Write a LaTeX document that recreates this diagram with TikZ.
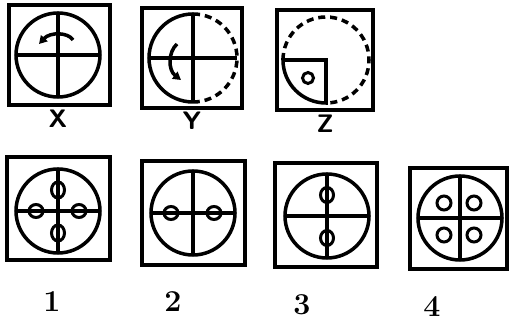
\documentclass[tikz,border=0pt]{standalone}
\usetikzlibrary{arrows.meta}

\begin{document}
\begin{tikzpicture}[
  x=0.02cm, y=-0.02cm,
  frame/.style={draw, line width=1.8pt},
  ring/.style={draw, line width=2pt},
  dashring/.style={draw, line width=2pt, dash pattern=on 4pt off 2.8pt},
  hub/.style={draw, line width=1.7pt, fill=white},
  turn/.style={line width=2pt, -{Triangle[length=4.5pt,width=5pt]}},
  letter/.style={font=\sffamily\bfseries\Large, inner sep=0pt},
  digit/.style={font=\bfseries\LARGE, inner sep=0pt}
]
\useasboundingbox (0,0) rectangle (510,323);

% question figures
% X
\draw[frame] (9,5) rectangle (110,105);
\draw[ring] (58,55) circle (42);
\draw[ring] (16,55) -- (100,55) (58,13) -- (58,97);
\draw[turn] (73,40) .. controls (68,32) and (50,32) .. (39,44);
\node[letter] (lx) at (58,119) {X};

% Y
\draw[frame] (142,8) rectangle (242,108);
\draw[ring] (193,102) arc (90:270:44);
\draw[dashring] (193,14) arc (270:450:44);
\draw[ring] (149,58) -- (237,58) (193,14) -- (193,102);
\draw[turn] (177,44) .. controls (168,52) and (168,70) .. (181,80);
\node[letter] (ly) at (192,121) {Y};

% Z
\draw[frame] (277,10) rectangle (373,110);
\draw[ring] (326,103) arc (90:180:43) -- (326,60) -- cycle;
\draw[dashring] (283,60) arc (180:450:43);
\draw[hub] (308,78) circle (5.5);
\node[letter] (lz) at (325,124) {Z};

% answer figures
\foreach \cx/\cy/\bl/\bt/\br/\bb in {58/211/7/157/110/260, 193/213/142/161/245/265,
                                    327/216/275/163/377/267, 460/218/410/168/507/269} {
  \draw[frame] (\bl,\bt) rectangle (\br,\bb);
  \draw[ring] (\cx,\cy) circle (42);
  \draw[ring] (\cx-42,\cy) -- (\cx+42,\cy) (\cx,\cy-42) -- (\cx,\cy+42);
}

% 1
\draw[hub] (58,190) ellipse (6.5 and 8);
\draw[hub] (58,233) ellipse (6.5 and 8);
\draw[hub] (36,211) ellipse (7 and 6.5);
\draw[hub] (79,211) ellipse (7 and 6.5);
\draw[ring] (58,182) -- (58,241) (29,211) -- (86,211);
% 2
\draw[hub] (171,213) ellipse (7 and 6.5);
\draw[hub] (214,213) ellipse (7 and 6.5);
\draw[ring] (164,213) -- (221,213);
% 3
\draw[hub] (327,195) ellipse (6.5 and 7.5);
\draw[hub] (327,238) ellipse (6.5 and 7.5);
\draw[ring] (327,187) -- (327,246);
% 4
\draw[hub] (444,203) circle (7);
\draw[hub] (474,203) circle (7);
\draw[hub] (444,235) circle (7);
\draw[hub] (474,235) circle (7);

\node[digit] (n1) at (52,302) {1};
\node[digit] (n2) at (173,302) {2};
\node[digit] (n3) at (302,305) {3};
\node[digit] (n4) at (432,307) {4};
\end{tikzpicture}
\end{document}
